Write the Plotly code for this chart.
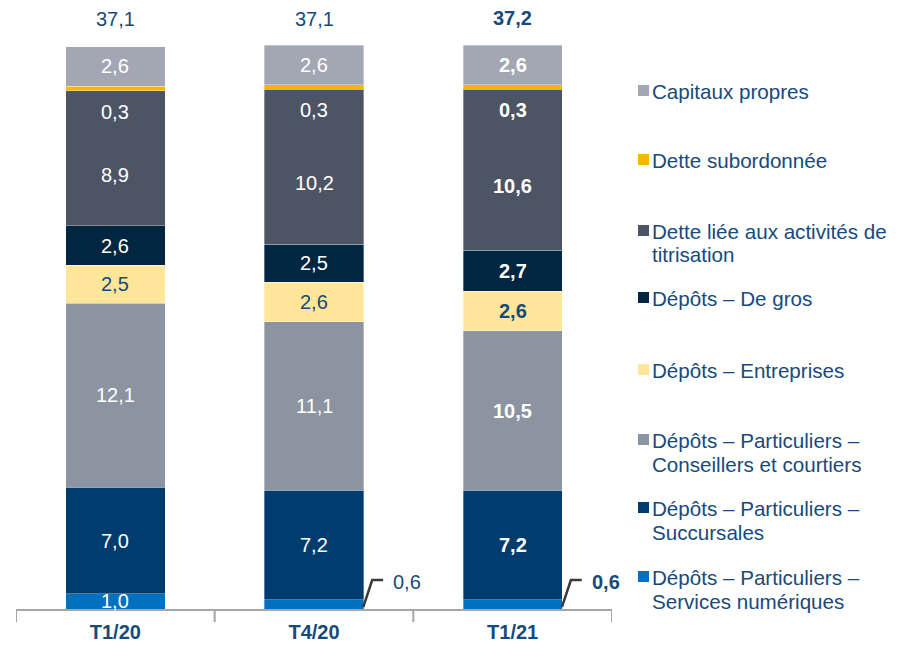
import plotly.graph_objects as go

categories = ["T1/20", "T4/20", "T1/21"]
series_names = [
    "Dépôts – Particuliers – Services numériques",
    "Dépôts – Particuliers – Succursales",
    "Dépôts – Particuliers – Conseillers et courtiers",
    "Dépôts – Entreprises",
    "Dépôts – De gros",
    "Dette liée aux activités de titrisation",
    "Dette subordonnée",
    "Capitaux propres",
]
numeriques = [1.0, 0.6, 0.6]
succursales = [7.0, 7.2, 7.2]
conseillers = [12.1, 11.1, 10.5]
entreprises = [2.5, 2.6, 2.6]
de_gros = [2.6, 2.5, 2.7]
titrisation = [8.9, 10.2, 10.6]
subordonnee = [0.3, 0.3, 0.3]
capitaux = [2.6, 2.6, 2.6]
totals = [37.1, 37.1, 37.2]
total_labels = ["37,1", "37,1", "37,2"]

legend_labels = [
    ["Capitaux propres"],
    ["Dette subordonnée"],
    ["Dette liée aux activités de", "titrisation"],
    ["Dépôts – De gros"],
    ["Dépôts – Entreprises"],
    ["Dépôts – Particuliers –", "Conseillers et courtiers"],
    ["Dépôts – Particuliers –", "Succursales"],
    ["Dépôts – Particuliers –", "Services numériques"],
]

series_values = [numeriques, succursales, conseillers, entreprises, de_gros,
                 titrisation, subordonnee, capitaux]
colors = ["#0070C0", "#003C6E", "#8C93A1", "#FFE699", "#002642",
          "#4D5565", "#F5B800", "#A3A7B4"]
label_colors = ["white", "white", "white", "#174A7C", "white", "white", "white", "white"]
TXT = "#174A7C"
FONT = "Liberation Sans, Arial, sans-serif"
LBL = 20
LEG = 20.6

# page has an 8px body margin
OFF = 8
W, H = 899 - OFF, 645 - OFF
ML, MR, MT, MB = 8, W - 604, 0, 36
PW, PH = W - ML - MR, H - MT - MB
YMAX = PH / 15.2

def px_to_paper(px, py):
    fx, fy = px - OFF, py - OFF
    return (fx - ML) / PW, (H - MB - fy) / PH

xs = [0, 1, 2]
fig = go.Figure()
for name, vals, col in zip(series_names, series_values, colors):
    fig.add_trace(go.Bar(
        x=xs, y=vals, name=name,
        marker=dict(color=col, line=dict(width=0.6, color="rgba(255,255,255,0.55)")),
        width=0.5, showlegend=False, hoverinfo="name+y",
    ))

def fmt(v):
    return f"{v:.1f}".replace(".", ",")

annotations = []
shapes = []
for i in xs:
    bold = (i == 2)
    base = 0.0
    for s, vals in enumerate(series_values):
        v = vals[i]
        mid = base + v / 2
        top = base + v
        txt = fmt(v)
        if bold:
            txt = f"<b>{txt}</b>"
        if s == 0 and v < 0.8:
            x0 = i + 0.248
            shapes.append(dict(type="path", xref="x", yref="y",
                               path=f"M {x0},{0.12} L {x0 + 0.045},{1.9} L {x0 + 0.10},{1.9}",
                               line=dict(color="#3A3A3A", width=2.5)))
            annotations.append(dict(x=i + 0.47, y=1.75, xref="x", yref="y", text=txt,
                                    showarrow=False, font=dict(size=LBL, color=TXT, family=FONT)))
        elif s == 6:
            annotations.append(dict(x=i, y=base - 1.4, xref="x", yref="y", text=txt,
                                    showarrow=False, font=dict(size=LBL, color="white", family=FONT)))
        elif s == 5:
            annotations.append(dict(x=i, y=mid - 1.1, xref="x", yref="y", text=txt,
                                    showarrow=False, font=dict(size=LBL, color="white", family=FONT)))
        else:
            annotations.append(dict(x=i, y=mid, xref="x", yref="y", text=txt,
                                    showarrow=False, font=dict(size=LBL, color=label_colors[s], family=FONT)))
        base = top
    ttxt = total_labels[i] if not bold else f"<b>{total_labels[i]}</b>"
    annotations.append(dict(x=i, y=totals[i], xref="x", yref="y", text=ttxt, showarrow=False,
                            yanchor="bottom", yshift=13, font=dict(size=LBL, color=TXT, family=FONT)))

# custom legend
legend_rows = [91, 160, 231, 298, 370, 440, 508, 577]
legend_colors = colors[::-1]
for lines, row, col in zip(legend_labels, legend_rows, legend_colors):
    x0, y0 = px_to_paper(638, row - 6)
    x1, y1 = px_to_paper(649, row + 5)
    shapes.append(dict(type="rect", xref="paper", yref="paper", x0=x0, x1=x1, y0=y1, y1=y0,
                       fillcolor=col, line=dict(width=0)))
    for k, line in enumerate(lines):
        tx, ty = px_to_paper(650, row + 24 * k)
        annotations.append(dict(x=tx, y=ty, xref="paper", yref="paper", text=line, showarrow=False,
                                xanchor="left", yanchor="middle", align="left",
                                font=dict(size=LEG, color=TXT, family=FONT)))

# tick marks at category boundaries
for b in [-0.5, 0.5, 1.5, 2.5]:
    shapes.append(dict(type="line", xref="x", yref="paper", x0=b, x1=b, y0=0, y1=-13 / PH,
                       line=dict(color="#A6A6A6", width=2)))

fig.update_layout(
    barmode="stack",
    width=W, height=H,
    margin=dict(l=ML, r=MR, t=MT, b=MB),
    plot_bgcolor="white", paper_bgcolor="white",
    annotations=annotations, shapes=shapes,
    showlegend=False,
    xaxis=dict(range=[-0.5, 2.5], tickmode="array", tickvals=xs,
               ticktext=[f"<b>{c}</b>" for c in categories],
               showline=True, linecolor="#A6A6A6", linewidth=2,
               ticks="", showgrid=False, zeroline=False, ticklabelstandoff=4,
               tickfont=dict(size=LBL, color=TXT, family=FONT)),
    yaxis=dict(range=[0, YMAX], visible=False, showgrid=False, zeroline=False),
)

fig.write_html("out.html")
